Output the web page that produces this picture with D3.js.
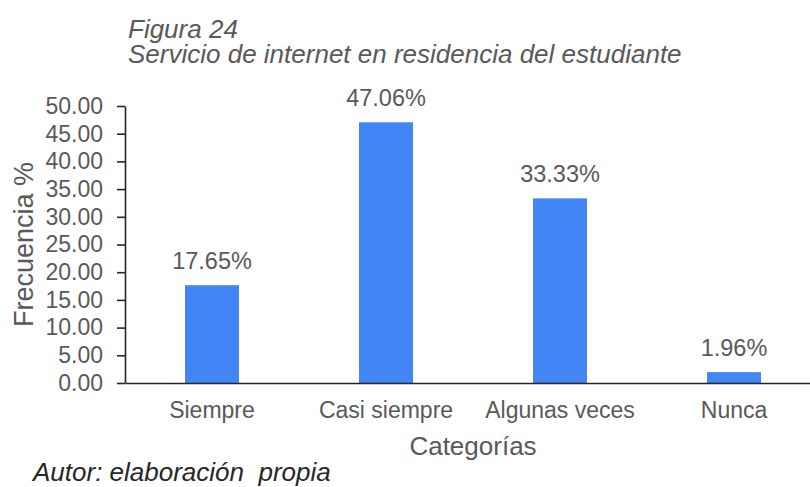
<html>
<head>
  <meta charset="utf-8">
  <script src="https://d3js.org/d3.v7.min.js"></script>
  <style>
    body { margin: 0; background: #fff; }
    text { font-family: "Liberation Sans", Arial, sans-serif; }
  </style>
</head>
<body>
  <div id="chart"></div>
  <script type="text/javascript">

    // datos
    var categorias = ["Siempre", "Casi siempre", "Algunas veces", "Nunca"];
    var frecuencia = [17.65, 47.06, 33.33, 1.96];
    var etiquetas = ["17.65%", "47.06%", "33.33%", "1.96%"];
    var yTicks = [0, 5, 10, 15, 20, 25, 30, 35, 40, 45, 50];

    var width = 810, height = 487;
    var plotLeft = 125, plotRight = 821, plotTop = 106, plotBottom = 383;
    var gris = "#595959";

    var svg = d3.select("#chart")
      .append("svg")
        .attr("width", width)
        .attr("height", height);

    var x = d3.scaleBand()
      .domain(categorias)
      .range([plotLeft, plotRight])
      .paddingInner(0.69)
      .paddingOuter(0.345);

    var y = d3.scaleLinear()
      .domain([0, 50])
      .range([plotBottom, plotTop]);

    // titulos
    svg.append("text")
      .attr("x", 128).attr("y", 38)
      .style("font-size", "26px").style("font-style", "italic")
      .style("fill", gris)
      .text("Figura 24");

    svg.append("text")
      .attr("x", 128).attr("y", 63)
      .style("font-size", "26px").style("font-style", "italic")
      .style("fill", gris)
      .text("Servicio de internet en residencia del estudiante");

    // barras
    svg.selectAll("rect.bar")
      .data(frecuencia)
      .enter().append("rect")
        .attr("class", "bar")
        .attr("x", function(d, i) { return x(categorias[i]); })
        .attr("y", function(d) { return y(d); })
        .attr("width", x.bandwidth())
        .attr("height", function(d) { return y(0) - y(d); })
        .attr("fill", "#4285f4");

    svg.selectAll("text.valor")
      .data(frecuencia)
      .enter().append("text")
        .attr("class", "valor")
        .attr("x", function(d, i) { return x(categorias[i]) + x.bandwidth() / 2; })
        .attr("y", function(d) { return y(d) - 16; })
        .attr("text-anchor", "middle")
        .style("font-size", "23.5px")
        .style("fill", gris)
        .text(function(d, i) { return etiquetas[i]; });

    // ejes
    var yAxis = svg.append("g")
      .attr("transform", "translate(" + plotLeft + ",0)")
      .call(d3.axisLeft(y)
        .tickValues(yTicks)
        .tickFormat(d3.format(".2f"))
        .tickSizeInner(8)
        .tickSizeOuter(0)
        .tickPadding(14));

    var xAxis = svg.append("g")
      .attr("transform", "translate(0," + plotBottom + ")")
      .call(d3.axisBottom(x)
        .tickSize(0)
        .tickPadding(19));

    [yAxis, xAxis].forEach(function(g) {
      g.selectAll("path, line").attr("stroke", "#262626").attr("stroke-width", 1.6);
      g.selectAll("text")
        .style("font-size", "23px")
        .style("font-family", "'Liberation Sans', Arial, sans-serif")
        .attr("fill", gris);
    });

    // titulos de ejes
    svg.append("text")
      .attr("transform", "translate(33," + ((plotTop + plotBottom) / 2) + ") rotate(-90)")
      .attr("text-anchor", "middle")
      .style("font-size", "27px")
      .style("fill", gris)
      .text("Frecuencia %");

    svg.append("text")
      .attr("x", (plotLeft + plotRight) / 2)
      .attr("y", 455)
      .attr("text-anchor", "middle")
      .style("font-size", "26px")
      .style("fill", gris)
      .text("Categorías");

    svg.append("text")
      .attr("x", 33).attr("y", 481)
      .attr("xml:space", "preserve")
      .style("white-space", "pre")
      .style("font-size", "26px").style("font-style", "italic")
      .style("fill", "#262626")
      .text("Autor: elaboración  propia");

  </script>
</body>
</html>
